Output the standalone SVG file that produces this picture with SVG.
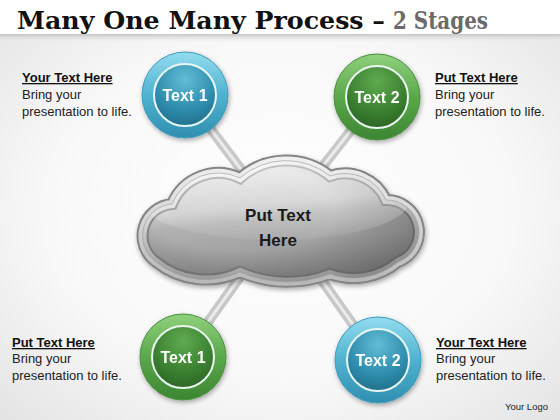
<svg xmlns="http://www.w3.org/2000/svg" width="560" height="420" viewBox="0 0 560 420">
<defs>
<style>
.title{font-family:"DejaVu Serif","Liberation Serif",serif;font-weight:bold;font-size:25px}
.head{font-family:"Liberation Sans",Arial,sans-serif;font-weight:bold;font-size:13px;fill:#111;text-decoration:underline}
.body{font-family:"Liberation Sans",Arial,sans-serif;font-size:13px;fill:#222}
.nlabel{font-family:"Liberation Sans",Arial,sans-serif;font-weight:bold;font-size:16px;fill:#fff;text-anchor:middle}
.clabel{font-family:"Liberation Sans",Arial,sans-serif;font-weight:bold;font-size:17px;fill:#1a1a1a;text-anchor:middle}
.spoke{stroke:#c8c8c8;stroke-width:10;fill:none}
.spokehi{stroke:#ececec;stroke-width:3;fill:none}
.core-ring{fill:none;stroke:#eaf6f2;stroke-width:2}
</style>
<radialGradient id="bg" cx="50%" cy="50%" r="70%">
<stop offset="0" stop-color="#ffffff"/><stop offset="0.6" stop-color="#f8f8f8"/><stop offset="1" stop-color="#e4e4e4"/>
</radialGradient>
<linearGradient id="band" x1="0" y1="0" x2="0" y2="1">
<stop offset="0" stop-color="#c4c4c4"/><stop offset="1" stop-color="#f2f2f2" stop-opacity="0"/>
</linearGradient>
<linearGradient id="blueRing" x1="0" y1="0" x2="0" y2="1">
<stop offset="0" stop-color="#93dcef"/><stop offset="0.5" stop-color="#4fb2d0"/><stop offset="1" stop-color="#2f8fb0"/>
</linearGradient>
<radialGradient id="blueCore" cx="50%" cy="25%" r="80%">
<stop offset="0" stop-color="#62bcd6"/><stop offset="0.6" stop-color="#2f8eae"/><stop offset="1" stop-color="#1f6c88"/>
</radialGradient>
<linearGradient id="greenRing" x1="0" y1="0" x2="0" y2="1">
<stop offset="0" stop-color="#90d07c"/><stop offset="0.5" stop-color="#5aa84b"/><stop offset="1" stop-color="#3c8532"/>
</linearGradient>
<radialGradient id="greenCore" cx="50%" cy="25%" r="80%">
<stop offset="0" stop-color="#5fab4f"/><stop offset="0.6" stop-color="#3b8131"/><stop offset="1" stop-color="#2b6224"/>
</radialGradient>
<linearGradient id="cloudFill" x1="0" y1="0" x2="0.25" y2="1">
<stop offset="0" stop-color="#e2e2e2"/><stop offset="0.45" stop-color="#c8c8c8"/><stop offset="0.55" stop-color="#b2b2b2"/><stop offset="1" stop-color="#939393"/>
</linearGradient>
<radialGradient id="cloudShade" cx="35%" cy="40%" r="70%">
<stop offset="0.5" stop-color="#000" stop-opacity="0"/><stop offset="1" stop-color="#000" stop-opacity="0.25"/>
</radialGradient>
<linearGradient id="rim" x1="0" y1="0" x2="0" y2="1">
<stop offset="0" stop-color="#f0f0f0"/><stop offset="1" stop-color="#b8b8b8"/>
</linearGradient>
<linearGradient id="gloss" x1="0" y1="0" x2="0" y2="1">
<stop offset="0" stop-color="#fff" stop-opacity="0.55"/><stop offset="1" stop-color="#fff" stop-opacity="0.05"/>
</linearGradient>
<filter id="sh" x="-30%" y="-30%" width="160%" height="160%">
<feGaussianBlur in="SourceAlpha" stdDeviation="2.5"/>
<feOffset dx="1" dy="2" result="b"/>
<feComponentTransfer><feFuncA type="linear" slope="0.35"/></feComponentTransfer>
<feMerge><feMergeNode/><feMergeNode in="SourceGraphic"/></feMerge>
</filter>
<path id="cloudPath" d="M156 262 A32 32 0 0 1 172 204 A50 50 0 0 1 240 178 A70 70 0 0 1 330 176 A45 45 0 0 1 386 200 A32 32 0 0 1 398 262 A70 70 0 0 1 330 274 A120 120 0 0 1 240 272 A80 80 0 0 1 156 262 Z"/>
<clipPath id="cloudClip"><use href="#cloudPath"/></clipPath>
</defs>

<rect x="0" y="0" width="560" height="420" fill="url(#bg)"/>
<rect x="0" y="0" width="560" height="34" fill="#ffffff"/>
<rect x="0" y="34" width="560" height="9" fill="url(#band)"/>

<g id="title">
<text class="title" x="17" y="29" fill="#111" textLength="368" lengthAdjust="spacingAndGlyphs">Many One Many Process –</text>
<text class="title" x="393" y="29" fill="#6a6a6a" textLength="95" lengthAdjust="spacingAndGlyphs">2 Stages</text>
</g>

<g id="connectors">
<line class="spoke" x1="185" y1="95" x2="280" y2="221"/>
<line class="spoke" x1="377" y1="97" x2="280" y2="221"/>
<line class="spoke" x1="183" y1="357" x2="280" y2="221"/>
<line class="spoke" x1="378" y1="360" x2="280" y2="221"/>
<line class="spokehi" x1="185" y1="95" x2="280" y2="221"/>
<line class="spokehi" x1="377" y1="97" x2="280" y2="221"/>
<line class="spokehi" x1="183" y1="357" x2="280" y2="221"/>
<line class="spokehi" x1="378" y1="360" x2="280" y2="221"/>
</g>

<g id="cloud">
<g filter="url(#sh)">
<use href="#cloudPath" fill="url(#cloudFill)" stroke="#858585" stroke-width="12"/>
</g>
<use href="#cloudPath" fill="none" stroke="url(#rim)" stroke-width="8"/>
<use href="#cloudPath" fill="url(#cloudShade)"/>
<g clip-path="url(#cloudClip)">
<ellipse cx="275" cy="200" rx="135" ry="40" fill="url(#gloss)"/>
</g>
<use href="#cloudPath" fill="none" stroke="#9a9a9a" stroke-width="1" opacity="0.6"/>
<text class="clabel" x="278" y="221">Put Text</text>
<text class="clabel" x="278" y="246">Here</text>
</g>

<g id="node-text1-top" filter="url(#sh)">
<circle cx="185" cy="95" r="43" fill="url(#blueRing)" stroke="#3d9dbd" stroke-width="1"/>
<circle cx="185" cy="95" r="31" fill="url(#blueCore)"/>
<circle class="core-ring" cx="185" cy="95" r="31"/>
<text class="nlabel" x="185" y="101">Text 1</text>
</g>
<g id="node-text2-top" filter="url(#sh)">
<circle cx="377" cy="97" r="43" fill="url(#greenRing)" stroke="#4a913f" stroke-width="1"/>
<circle cx="377" cy="97" r="31" fill="url(#greenCore)"/>
<circle class="core-ring" cx="377" cy="97" r="31"/>
<text class="nlabel" x="377" y="103">Text 2</text>
</g>
<g id="node-text1-bottom" filter="url(#sh)">
<circle cx="183" cy="357" r="43" fill="url(#greenRing)" stroke="#4a913f" stroke-width="1"/>
<circle cx="183" cy="357" r="31" fill="url(#greenCore)"/>
<circle class="core-ring" cx="183" cy="357" r="31"/>
<text class="nlabel" x="183" y="363">Text 1</text>
</g>
<g id="node-text2-bottom" filter="url(#sh)">
<circle cx="378" cy="360" r="43" fill="url(#blueRing)" stroke="#3d9dbd" stroke-width="1"/>
<circle cx="378" cy="360" r="31" fill="url(#blueCore)"/>
<circle class="core-ring" cx="378" cy="360" r="31"/>
<text class="nlabel" x="378" y="366">Text 2</text>
</g>

<g id="caption-top-left">
<text class="head" x="22" y="82">Your Text Here</text>
<text class="body" x="22" y="99">Bring your</text>
<text class="body" x="22" y="116">presentation to life.</text>
</g>
<g id="caption-top-right">
<text class="head" x="435" y="82">Put Text Here</text>
<text class="body" x="435" y="99">Bring your</text>
<text class="body" x="435" y="116">presentation to life.</text>
</g>
<g id="caption-bottom-left">
<text class="head" x="12" y="347">Put Text Here</text>
<text class="body" x="12" y="363">Bring your</text>
<text class="body" x="12" y="380">presentation to life.</text>
</g>
<g id="caption-bottom-right">
<text class="head" x="436" y="347">Your Text Here</text>
<text class="body" x="436" y="363">Bring your</text>
<text class="body" x="436" y="380">presentation to life.</text>
</g>
<text x="548" y="410" text-anchor="end" font-family="Liberation Sans, Arial, sans-serif" font-size="9.5" fill="#222">Your Logo</text>
</svg>
